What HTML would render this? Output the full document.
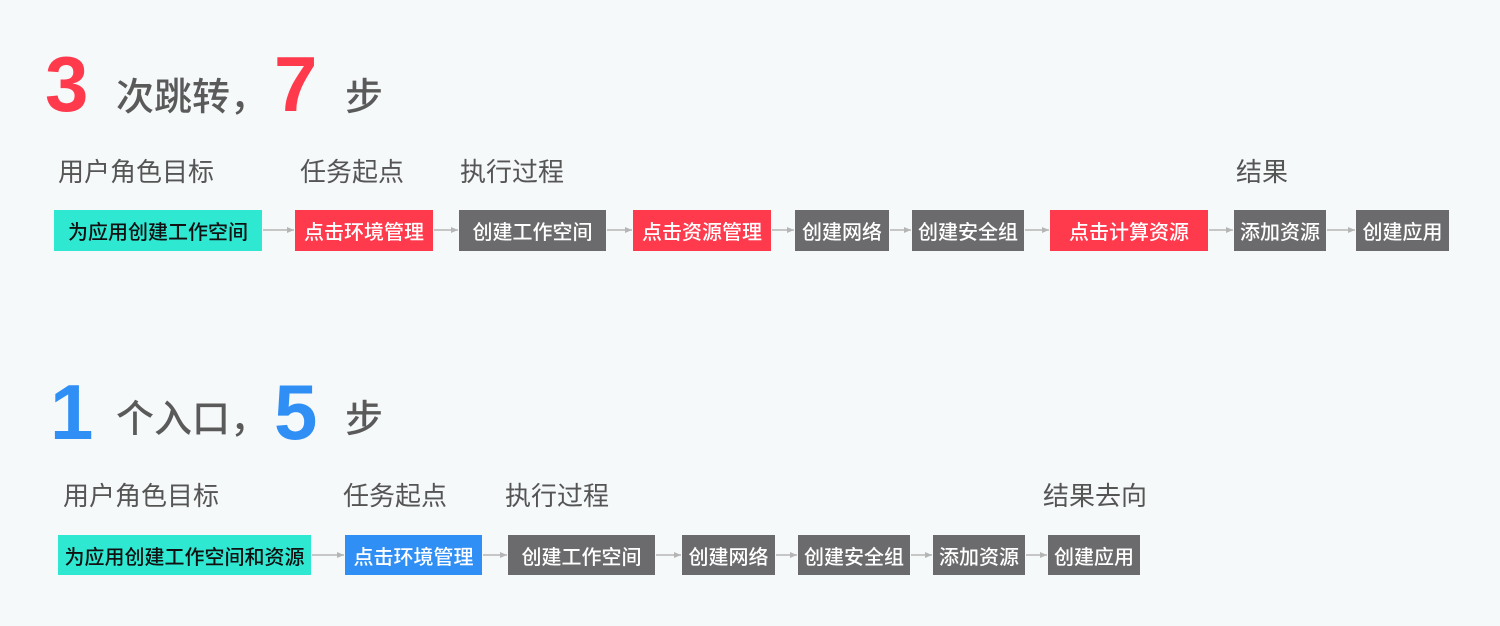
<!DOCTYPE html>
<html><head><meta charset="utf-8"><style>
body{margin:0;width:1500px;height:626px;background:#f6f9fa;position:relative;overflow:hidden;font-family:"Liberation Sans","Noto Sans CJK SC",sans-serif;}
.a{position:absolute;white-space:nowrap;}
.big{font-family:"Liberation Sans",sans-serif;font-weight:bold;font-size:78px;line-height:76px;}
.t{font-size:38px;color:#5a5a5a;line-height:40px;font-weight:500;}
.l{font-size:26px;color:#555;line-height:28px;}
.b{position:absolute;display:flex;align-items:center;justify-content:center;color:#fff;font-size:20px;white-space:nowrap;font-weight:500;}
.g{background:#6b6b6d}.r{background:#ff3a4d}.c{background:#2ee8d2;color:#111}.u{background:#2f8ff5}
</style></head><body>
<div class="a big" style="left:45px;top:46px;color:#ff3a4d">3</div>
<div class="a t" style="left:116px;top:78px">次跳转，</div>
<div class="a big" style="left:274px;top:46px;color:#ff3a4d">7</div>
<div class="a t" style="left:345px;top:78px">步</div>
<div class="a l" style="left:58px;top:158px">用户角色目标</div>
<div class="a l" style="left:300px;top:158px">任务起点</div>
<div class="a l" style="left:460px;top:158px">执行过程</div>
<div class="a l" style="left:1236px;top:158px">结果</div>

<div class="a big" style="left:50px;top:374px;color:#2f8ff5">1</div>
<div class="a t" style="left:116px;top:400px">个入口，</div>
<div class="a big" style="left:274px;top:374px;color:#2f8ff5">5</div>
<div class="a t" style="left:345px;top:400px">步</div>
<div class="a l" style="left:63px;top:482px">用户角色目标</div>
<div class="a l" style="left:343px;top:482px">任务起点</div>
<div class="a l" style="left:505px;top:482px">执行过程</div>
<div class="a l" style="left:1043px;top:482px">结果去向</div>

<svg class="a" style="left:0;top:0" width="1500" height="626">
<defs><marker id="m" markerWidth="8" markerHeight="8" refX="7" refY="4" orient="auto" markerUnits="userSpaceOnUse"><path d="M0,1 L7,4 L0,7z" fill="#b5b5b5"/></marker></defs>
<g stroke="#b5b5b5" stroke-width="1.5" marker-end="url(#m)">
<line x1="263" y1="230" x2="294" y2="230"/>
<line x1="434" y1="230" x2="458" y2="230"/>
<line x1="607" y1="230" x2="632" y2="230"/>
<line x1="772" y1="230" x2="794" y2="230"/>
<line x1="890" y1="230" x2="911" y2="230"/>
<line x1="1025" y1="230" x2="1049" y2="230"/>
<line x1="1209" y1="230" x2="1233" y2="230"/>
<line x1="1327" y1="230" x2="1355" y2="230"/>
<line x1="312" y1="555" x2="344" y2="555"/>
<line x1="483" y1="555" x2="507" y2="555"/>
<line x1="656" y1="555" x2="681" y2="555"/>
<line x1="776" y1="555" x2="797" y2="555"/>
<line x1="911" y1="555" x2="932" y2="555"/>
<line x1="1026" y1="555" x2="1047" y2="555"/>
</g></svg>

<div class="b c" style="left:54px;top:210px;width:208px;height:41px">为应用创建工作空间</div>
<div class="b r" style="left:295px;top:210px;width:138px;height:41px">点击环境管理</div>
<div class="b g" style="left:459px;top:210px;width:147px;height:41px">创建工作空间</div>
<div class="b r" style="left:633px;top:210px;width:138px;height:41px">点击资源管理</div>
<div class="b g" style="left:795px;top:210px;width:94px;height:41px">创建网络</div>
<div class="b g" style="left:912px;top:210px;width:112px;height:41px">创建安全组</div>
<div class="b r" style="left:1050px;top:210px;width:158px;height:41px">点击计算资源</div>
<div class="b g" style="left:1234px;top:210px;width:92px;height:41px">添加资源</div>
<div class="b g" style="left:1356px;top:210px;width:93px;height:41px">创建应用</div>

<div class="b c" style="left:58px;top:535px;width:253px;height:40px">为应用创建工作空间和资源</div>
<div class="b u" style="left:345px;top:535px;width:137px;height:40px">点击环境管理</div>
<div class="b g" style="left:508px;top:535px;width:147px;height:40px">创建工作空间</div>
<div class="b g" style="left:682px;top:535px;width:93px;height:40px">创建网络</div>
<div class="b g" style="left:798px;top:535px;width:112px;height:40px">创建安全组</div>
<div class="b g" style="left:933px;top:535px;width:92px;height:40px">添加资源</div>
<div class="b g" style="left:1048px;top:535px;width:92px;height:40px">创建应用</div>
</body></html>
